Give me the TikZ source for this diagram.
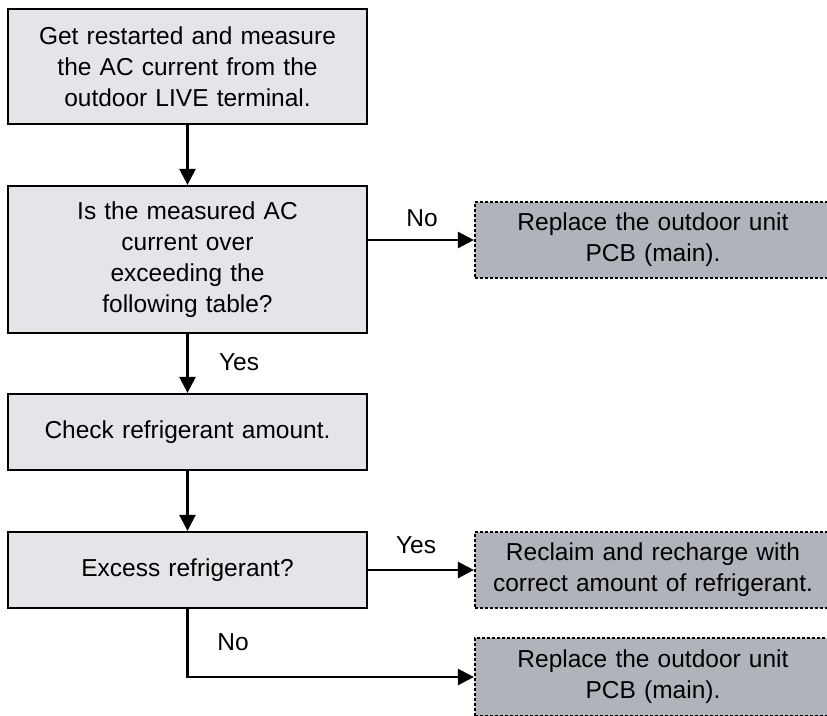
\documentclass[tikz,border=0pt]{standalone}
\usepackage{fontspec}
\setmainfont{Liberation Sans}
\usetikzlibrary{arrows.meta}
\definecolor{procfill}{RGB}{228,229,233}
\definecolor{dashfill}{RGB}{176,179,185}
\tikzset{
  procbox/.style={draw=black, line width=2.2pt, fill=procfill, rectangle,
    minimum width=359pt, text width=350pt, align=center, inner sep=0pt,
    font=\fontsize{24.5}{31}\selectfont},
  actbox/.style={draw=black, line width=2.2pt, fill=dashfill, rectangle,
    dash pattern=on 3pt off 2pt,
    minimum width=356pt, text width=354pt, align=center, inner sep=0pt,
    font=\fontsize{24.5}{31}\selectfont},
  conn/.style={line width=2.4pt, -{Triangle[length=16pt,width=16pt]}},
  lbl/.style={font=\fontsize{24.5}{28}\selectfont, inner sep=0pt}
}
\begin{document}
\begin{tikzpicture}[x=1pt,y=-1pt]
\useasboundingbox (0,0) rectangle (827,715);
\clip (0,0) rectangle (827,715);
\fill[white] (0,0) rectangle (827,715);
\node[procbox, minimum height=115pt] (b1) at (187.5,66.5)
  {Get restarted and measure\\the AC current from the\\outdoor LIVE terminal.};
\node[procbox, minimum height=147pt] (b2) at (187.5,259.5)
  {Is the measured AC\\current over\\exceeding the\\following table?};
\node[procbox, minimum height=76pt] (b3) at (187.5,432)
  {Check refrigerant amount.};
\node[procbox, minimum height=76pt] (b4) at (187.5,570)
  {Excess refrigerant?};
\node[actbox, minimum height=76pt] (d1) at (653,240)
  {Replace the outdoor unit\\PCB (main).};
\node[actbox, minimum height=76pt] (d2) at (653,570)
  {Reclaim and recharge with\\correct amount of refrigerant.};
\node[actbox, minimum height=78pt] (d3) at (653,677)
  {Replace the outdoor unit\\PCB (main).};
\draw[conn] (b1.south) -- (b2.north);
\draw[conn] (b2.south) -- (b3.north);
\draw[conn] (b3.south) -- (b4.north);
\draw[conn] (b2.east |- d1.west) -- (d1.west);
\draw[conn] (b4.east |- d2.west) -- (d2.west);
\draw[conn] (b4.south) |- (d3.west);
\node[lbl] (lno1) at (422,218) {No};
\node[lbl] (lyes1) at (239,362) {Yes};
\node[lbl] (lyes2) at (416,545) {Yes};
\node[lbl] (lno2) at (233,642) {No};
\end{tikzpicture}
\end{document}
